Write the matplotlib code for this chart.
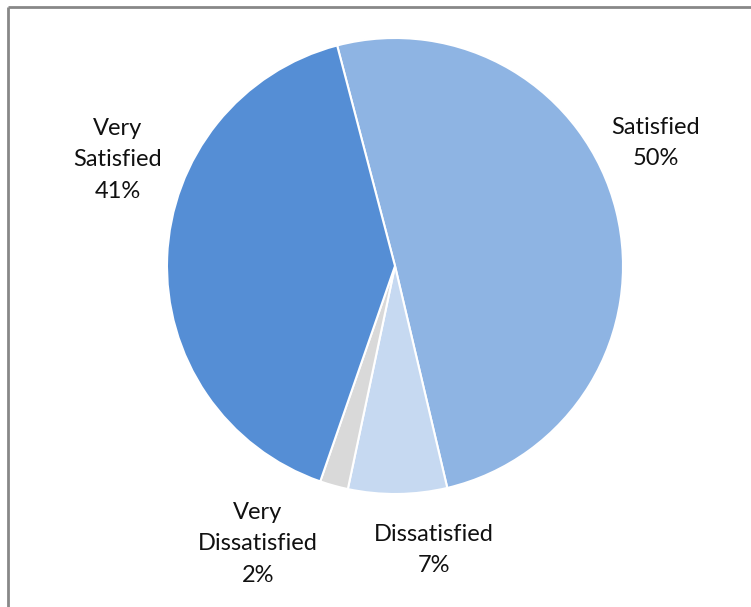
import matplotlib.pyplot as plt

# survey answers, clockwise from the top
categories = ['Satisfied', 'Dissatisfied', 'Very\nDissatisfied', 'Very\nSatisfied']
shares = [50.4, 7.0, 2.0, 40.6]
colors = ['#8EB4E3', '#C6D9F1', '#D9D9D9', '#558ED5']

# label centres in pixel space (x, y from top)
label_pos = [(656, 143), (434, 550), (258, 544), (118, 160)]

W, H = 751, 607
fig = plt.figure(figsize=(W / 100, H / 100), dpi=100)
ax = fig.add_axes([0, 0, 1, 1])

ax.pie(shares, colors=colors, startangle=104.7, counterclock=False,
       center=(395, H - 266), radius=228, frame=True,
       wedgeprops=dict(edgecolor='white', linewidth=1.5))
ax.set_xlim(0, W)
ax.set_ylim(0, H)
ax.axis('off')

for name, val, (px, py) in zip(categories, shares, label_pos):
    ax.text(px, H - py, f'{name}\n{round(val)}%', ha='center', va='center',
            fontsize=17, family='Lato', color='#111111', linespacing=1.6)

# partial frame: only left and top edges are visible
ax.plot([8, 8], [0, H - 7], color='#888888', lw=2, solid_capstyle='butt')
ax.plot([8, W], [H - 7, H - 7], color='#888888', lw=2, solid_capstyle='butt')

fig.savefig('out.png', dpi=100)
